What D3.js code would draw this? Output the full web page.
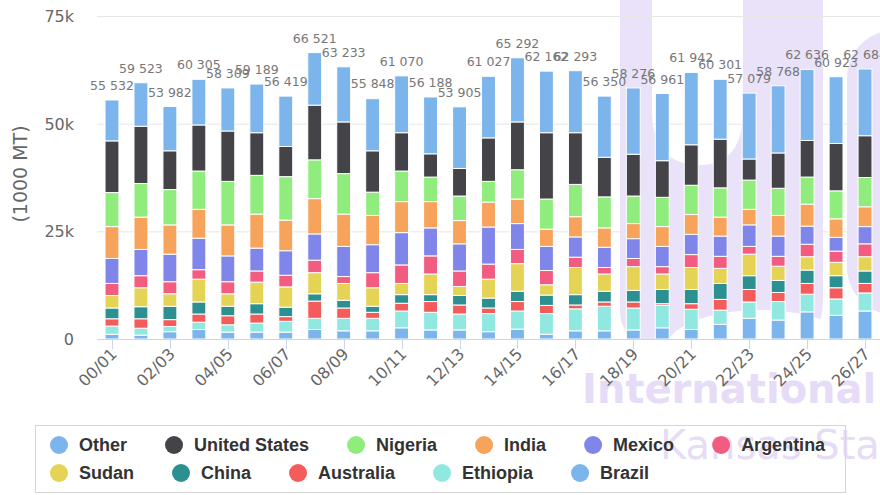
<!DOCTYPE html>
<html>
<head>
<meta charset="utf-8">
<script src="https://cdnjs.cloudflare.com/ajax/libs/d3/7.8.5/d3.min.js"></script>
<style>
    body { margin: 0; background: #fff; overflow: hidden; }
    svg { display: block; }
</style>
</head>
<body>
<div id="chart"></div>
<script>
// marketing years on the x axis
var years = ["00/01", "01/02", "02/03", "03/04", "04/05", "05/06", "06/07", "07/08", "08/09",
    "09/10", "10/11", "11/12", "12/13", "13/14", "14/15", "15/16", "16/17", "17/18", "18/19",
    "19/20", "20/21", "21/22", "22/23", "23/24", "24/25", "25/26", "26/27"];

// production per country, thousands of (1000 MT)
var brazil    = [1.1, 0.9, 1.7, 2.2, 1.6, 1.6, 1.6, 2.2, 1.9, 1.9, 2.6, 2.1, 2.1, 1.7, 2.3, 1.1, 1.9, 1.9, 2.1, 2.6, 2.2, 3.4, 4.8, 4.4, 6.3, 5.5, 6.5];
var ethiopia  = [1.9, 1.6, 1.2, 1.7, 1.7, 2.1, 2.5, 2.6, 2.9, 2.9, 3.9, 4.1, 3.7, 4.2, 4.2, 4.8, 5.1, 5.7, 5.1, 5.2, 4.7, 3.3, 3.8, 4.3, 4.1, 3.8, 4.2];
var australia = [1.7, 2.2, 1.6, 1.9, 2.1, 2.1, 1.1, 4.0, 2.4, 1.4, 1.8, 2.5, 2.1, 1.3, 2.2, 1.9, 0.9, 1.0, 1.4, 0.4, 1.3, 2.5, 2.9, 2.1, 2.5, 2.6, 2.2];
var china     = [2.5, 2.8, 3.1, 2.8, 2.2, 2.4, 2.2, 1.7, 1.8, 1.4, 2.0, 1.6, 2.2, 2.3, 2.4, 2.4, 2.4, 2.5, 2.7, 3.3, 3.3, 3.7, 3.2, 2.8, 3.1, 2.8, 2.9];
var sudan     = [2.9, 4.4, 2.9, 5.3, 2.9, 5.0, 4.7, 4.9, 3.9, 4.3, 2.6, 4.8, 2.1, 4.4, 6.4, 2.4, 6.3, 4.0, 5.5, 3.6, 5.1, 3.5, 5.0, 3.3, 3.1, 3.1, 3.3];
var argentina = [2.8, 2.8, 2.8, 2.2, 2.8, 2.6, 2.7, 2.9, 1.6, 3.5, 4.3, 4.2, 3.6, 3.5, 3.3, 3.3, 2.4, 1.5, 1.9, 1.7, 3.0, 2.8, 1.8, 2.3, 2.9, 2.6, 3.0];
var mexico    = [5.8, 6.1, 6.4, 7.3, 6.0, 5.3, 5.7, 6.1, 7.0, 6.5, 7.5, 6.5, 6.3, 8.6, 6.0, 5.6, 4.7, 4.7, 4.6, 4.7, 4.7, 4.7, 5.0, 4.7, 4.2, 3.2, 4.0];
var india     = [7.4, 7.5, 6.8, 6.7, 7.2, 7.9, 7.1, 8.2, 7.5, 6.8, 7.2, 6.1, 5.4, 5.8, 5.7, 4.0, 4.7, 4.5, 3.5, 4.6, 4.6, 4.4, 3.6, 4.8, 5.1, 4.3, 4.6];
var nigeria   = [7.9, 7.8, 8.2, 8.9, 10.1, 9.0, 10.1, 9.0, 9.4, 5.4, 7.1, 5.7, 5.7, 4.8, 6.8, 7.0, 7.5, 7.2, 6.4, 6.8, 6.8, 6.8, 6.8, 6.3, 6.3, 6.5, 6.8];
var unitedStates = [12.0, 13.3, 9.0, 10.7, 11.7, 9.9, 7.0, 12.7, 12.0, 9.6, 8.9, 5.4, 6.4, 10.1, 11.1, 15.4, 12.0, 9.2, 9.7, 8.5, 9.4, 11.3, 4.9, 8.2, 8.5, 11.0, 9.7];
var other     = [9.5, 10.1, 10.3, 10.6, 10.0, 11.3, 11.7, 12.2, 12.8, 12.1, 13.2, 13.2, 14.3, 14.3, 14.9, 14.3, 14.4, 14.2, 15.4, 15.6, 16.8, 13.9, 15.3, 15.6, 16.5, 15.5, 15.5];

// stack totals as printed above each bar
var totals = [55532, 59523, 53982, 60305, 58309, 59189, 56419, 66521, 63233, 55848, 61070,
    56188, 53905, 61027, 65292, 62162, 62293, 56350, 58276, 56961, 61942, 60301, 57079,
    58768, 62636, 60923, 62684];

var yTicks = [0, 25, 50, 75];

// bottom of the stack first
var series = [
    {name: "Brazil", values: brazil, color: "#7cb5ec"},
    {name: "Ethiopia", values: ethiopia, color: "#91e8e1"},
    {name: "Australia", values: australia, color: "#f45b5b"},
    {name: "China", values: china, color: "#2b908f"},
    {name: "Sudan", values: sudan, color: "#e4d354"},
    {name: "Argentina", values: argentina, color: "#f15c80"},
    {name: "Mexico", values: mexico, color: "#8085e9"},
    {name: "India", values: india, color: "#f7a35c"},
    {name: "Nigeria", values: nigeria, color: "#90ed7d"},
    {name: "United States", values: unitedStates, color: "#434348"},
    {name: "Other", values: other, color: "#7cb5ec"}
];

var W = 880, H = 495;
var plot = {left: 97, right: 880, top: 16, bottom: 339};

var svg = d3.select("#chart").append("svg")
    .attr("width", W)
    .attr("height", H);

// watermark (logo) behind everything
var lav = "#e9e2f8";
var wm = svg.append("g").attr("class", "watermark");
wm.append("path")
    .attr("d", "M620,0 H823 V300 Q823,340 790,340 H650 Q620,340 620,310 Z")
    .attr("fill", lav);
// white hole at the top of the logo
wm.append("path")
    .attr("d", "M652,0 V110 Q652,165 700,165 Q743,165 743,110 V0 Z")
    .attr("fill", "#fff");
// white bowl at the bottom
wm.append("ellipse")
    .attr("cx", 760).attr("cy", 350).attr("rx", 95).attr("ry", 40)
    .attr("fill", "#fff");
wm.append("rect")
    .attr("x", 847).attr("y", 30)
    .attr("width", 110).attr("height", 285)
    .attr("rx", 48)
    .attr("fill", lav);
wm.append("text")
    .attr("x", 582).attr("y", 403)
    .attr("font-family", "DejaVu Sans")
    .attr("font-weight", "bold")
    .attr("font-size", 40)
    .attr("fill", "#e6dcf7")
    .text("International");
wm.append("text")
    .attr("x", 660).attr("y", 459)
    .attr("font-family", "DejaVu Sans")
    .attr("font-size", 40)
    .attr("fill", "#e6dcf6")
    .text("Kansas State");

// set the ranges
var x = d3.scaleBand()
    .domain(years)
    .range([plot.left, plot.right])
    .paddingInner(0.52)
    .paddingOuter(0.277);
var y = d3.scaleLinear()
    .domain([0, 75])
    .range([plot.bottom, plot.top]);

// grid lines
svg.append("g")
    .selectAll("line")
    .data(yTicks.filter(function (d) { return d > 0; }))
    .enter().append("line")
    .attr("x1", plot.left).attr("x2", plot.right)
    .attr("y1", function (d) { return y(d) + 0.5; })
    .attr("y2", function (d) { return y(d) + 0.5; })
    .attr("stroke", "#e6e6e6");

// y axis labels
svg.append("g")
    .selectAll("text")
    .data(yTicks)
    .enter().append("text")
    .attr("x", 74)
    .attr("y", function (d) { return y(d) + 6; })
    .attr("text-anchor", "end")
    .attr("font-family", "DejaVu Sans")
    .attr("font-size", 16)
    .attr("fill", "#666")
    .text(function (d) { return d === 0 ? "0" : d + "k"; });

svg.append("text")
    .attr("text-anchor", "middle")
    .attr("transform", "translate(27,174)rotate(-90)")
    .attr("font-family", "DejaVu Sans")
    .attr("font-size", 19)
    .attr("fill", "#666")
    .text("(1000 MT)");

// stack the data
var rows = years.map(function (yr, i) {
    var r = {year: yr};
    series.forEach(function (s) { r[s.name] = s.values[i]; });
    return r;
});
var stacked = d3.stack().keys(series.map(function (s) { return s.name; }))(rows);

var layers = svg.append("g")
    .selectAll("g")
    .data(stacked)
    .enter().append("g")
    .attr("fill", function (d, i) { return series[i].color; });

layers.selectAll("rect")
    .data(function (d) { return d; })
    .enter().append("rect")
    .attr("x", function (d) { return x(d.data.year); })
    .attr("width", x.bandwidth())
    .attr("y", function (d) { return y(d[1]); })
    .attr("height", function (d) { return Math.max(0, y(d[0]) - y(d[1])); })
    .attr("stroke", "#fff")
    .attr("stroke-width", 1);

// x axis line and ticks
svg.append("line")
    .attr("x1", plot.left).attr("x2", plot.right)
    .attr("y1", plot.bottom + 0.5).attr("y2", plot.bottom + 0.5)
    .attr("stroke", "#ccd6eb");

var shown = years.filter(function (d, i) { return i % 2 === 0; });
var cx = function (d) { return x(d) + x.bandwidth() / 2; };

svg.append("g")
    .selectAll("line")
    .data(shown)
    .enter().append("line")
    .attr("x1", function (d) { return Math.round(cx(d)) + 0.5; })
    .attr("x2", function (d) { return Math.round(cx(d)) + 0.5; })
    .attr("y1", plot.bottom).attr("y2", plot.bottom + 10)
    .attr("stroke", "#ccd6eb");

svg.append("g")
    .selectAll("text")
    .data(shown)
    .enter().append("text")
    .attr("text-anchor", "end")
    .attr("transform", function (d) {
        return "translate(" + (cx(d) + 6) + "," + (plot.bottom + 16) + ")rotate(-45)";
    })
    .attr("font-family", "DejaVu Sans")
    .attr("font-size", 16)
    .attr("fill", "#666")
    .text(function (d) { return d; });

// stack total labels
var fmt = function (v) { return d3.format(",")(v).replace(/,/g, " "); };
svg.append("g")
    .selectAll("text")
    .data(totals)
    .enter().append("text")
    .attr("x", function (d, i) { return cx(years[i]); })
    .attr("y", function (d) { return y(d / 1000) - 10; })
    .attr("text-anchor", "middle")
    .attr("font-family", "DejaVu Sans")
    .attr("font-size", 12.5)
    .attr("fill", "#777")
    .text(fmt);

// legend, top of the stack first
var legendItems = series.slice().reverse();
var box = {x: 35.5, y: 425.5, w: 810, h: 67};
svg.append("rect")
    .attr("x", box.x).attr("y", box.y)
    .attr("width", box.w).attr("height", box.h)
    .attr("fill", "none")
    .attr("stroke", "#d5d5d5");

var lg = svg.append("g");
var lx = 59, ly = 445;
legendItems.forEach(function (s) {
    var item = lg.append("g");
    var t = item.append("text")
        .attr("y", 6)
        .attr("font-family", "Liberation Sans")
        .attr("font-weight", "bold")
        .attr("font-size", 18)
        .attr("fill", "#333")
        .text(s.name);
    var tw = t.node().getComputedTextLength();
    if (lx + 20 + tw > box.x + box.w - 10) {
        lx = 59;
        ly += 28;
    }
    item.attr("transform", "translate(" + lx + "," + ly + ")");
    item.append("circle").attr("r", 9).attr("fill", s.color);
    t.attr("x", 20);
    lx += 20 + tw + 47;
});
</script>
</body>
</html>
